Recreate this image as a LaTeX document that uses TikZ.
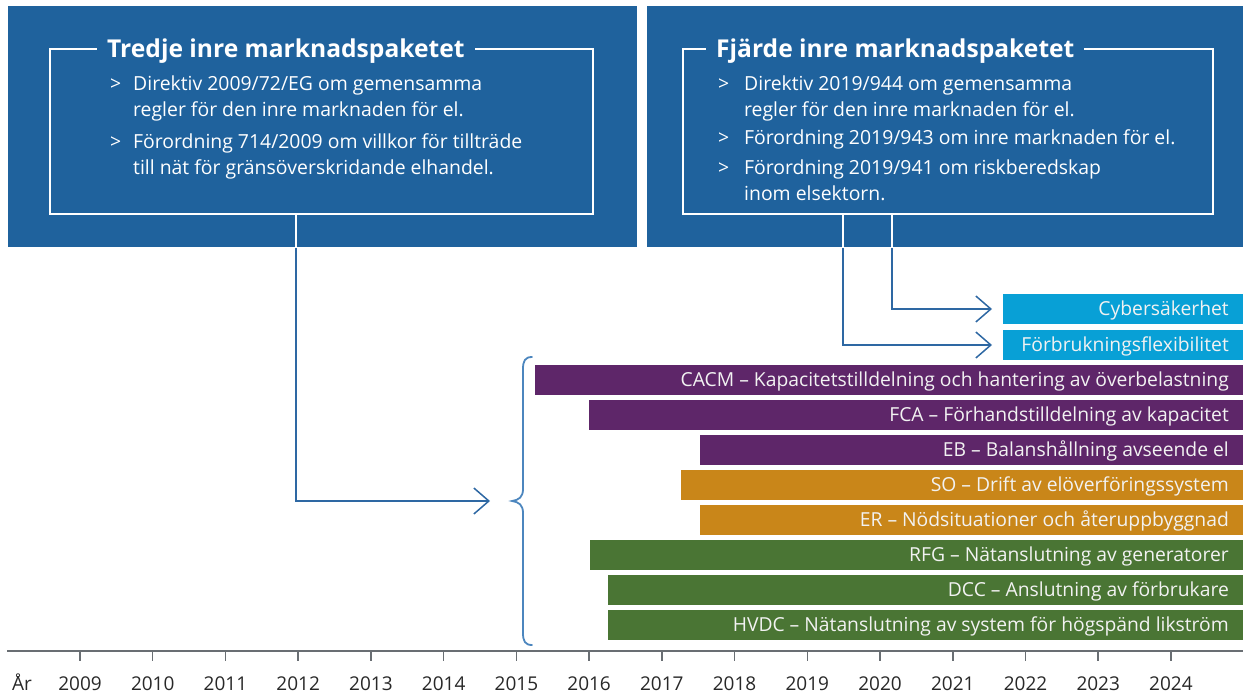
\documentclass[tikz,border=0pt]{standalone}
\usepackage{fontspec}
\setmainfont{Open Sans}
\usetikzlibrary{arrows.meta}

\definecolor{panelblue}{RGB}{31,98,157}
\definecolor{linkblue}{RGB}{46,104,163}
\definecolor{braceblue}{RGB}{76,134,190}
\definecolor{cyanbar}{RGB}{8,160,214}
\definecolor{purplebar}{RGB}{94,38,105}
\definecolor{orangebar}{RGB}{201,134,25}
\definecolor{greenbar}{RGB}{74,117,52}
\definecolor{axisgrey}{RGB}{105,110,115}
\definecolor{bartextcol}{RGB}{242,242,242}
\definecolor{labelgrey}{RGB}{40,40,40}

\tikzset{
  panel/.style={fill=panelblue, inner sep=0pt, outer sep=0pt, anchor=north west},
  framebox/.style={draw=white, line width=1.4pt, inner sep=0pt, outer sep=0pt, anchor=north west},
  titletext/.style={fill=panelblue, text=white, inner xsep=10pt, inner ysep=5pt, anchor=base west,
    font=\bfseries\fontsize{24.6}{28}\selectfont},
  bodyline/.style={text=white, inner sep=0pt, anchor=base west, font=\fontsize{19.4}{26}\selectfont},
  bar/.style={inner sep=0pt, outer sep=0pt, anchor=north west, minimum height=30pt},
  bartext/.style={text=bartextcol, inner sep=0pt, anchor=base east, font=\fontsize{19.3}{24}\selectfont},
  link/.style={draw=linkblue, line width=1.5pt,
    -{Straight Barb[length=15pt,width=26pt,line width=1.5pt]}},
  linkinner/.style={draw=white, line width=1.5pt},
  bracket/.style={draw=braceblue, line width=1.8pt, line cap=round},
  axisline/.style={draw=axisgrey, line width=1.5pt},
  ticklabel/.style={text=labelgrey, inner sep=0pt, anchor=base, font=\fontsize{19}{24}\selectfont},
}

\begin{document}
\begin{tikzpicture}[x=1pt, y=-1pt]
\useasboundingbox (0,0) rectangle (1243,693);

% blue header panels
\node[panel, minimum width=629pt, minimum height=241pt] (panelL) at (8,6) {};
\node[panel, minimum width=596pt, minimum height=241pt] (panelR) at (647,6) {};

% framed boxes inside the panels
\node[framebox, minimum width=543pt, minimum height=165pt] (frameL) at (50,49) {};
\node[framebox, minimum width=530pt, minimum height=165pt] (frameR) at (683,49) {};

% titles sit on the top frame line
\node[titletext] (titleL) at (97,58) {Tredje inre marknadspaketet};
\node[titletext] (titleR) at (706,58) {Fjärde inre marknadspaketet};

% third package items
\node[bodyline] (gL1) at (110,91) {>};
\node[bodyline] (tL1a) at (133,91) {Direktiv 2009/72/EG om gemensamma};
\node[bodyline] (tL1b) at (133,117) {regler för den inre marknaden för el.};
\node[bodyline] (gL2) at (110,148) {>};
\node[bodyline] (tL2a) at (133,148) {Förordning 714/2009 om villkor för tillträde};
\node[bodyline] (tL2b) at (133,174) {till nät för gränsöverskridande elhandel.};

% fourth package items
\node[bodyline] (gR1) at (718,91) {>};
\node[bodyline] (tR1a) at (744,91) {Direktiv 2019/944 om gemensamma};
\node[bodyline] (tR1b) at (744,117) {regler för den inre marknaden för el.};
\node[bodyline] (gR2) at (718,144) {>};
\node[bodyline] (tR2a) at (744,144) {Förordning 2019/943 om inre marknaden för el.};
\node[bodyline] (gR3) at (718,174) {>};
\node[bodyline] (tR3a) at (744,174) {Förordning 2019/941 om riskberedskap};
\node[bodyline] (tR3b) at (744,200) {inom elsektorn.};

% network codes and guidelines
\node[bar, fill=cyanbar,   minimum width=240pt] (cyber) at (1003,294) {};
\node[bar, fill=cyanbar,   minimum width=240pt] (flex)  at (1003,330) {};
\node[bar, fill=purplebar, minimum width=708pt] (cacm)  at (535,365) {};
\node[bar, fill=purplebar, minimum width=654pt] (fca)   at (589,400) {};
\node[bar, fill=purplebar, minimum width=543pt] (eb)    at (700,435) {};
\node[bar, fill=orangebar, minimum width=562pt] (so)    at (681,470) {};
\node[bar, fill=orangebar, minimum width=543pt] (er)    at (700,505) {};
\node[bar, fill=greenbar,  minimum width=653pt] (rfg)   at (590,540) {};
\node[bar, fill=greenbar,  minimum width=635pt] (dcc)   at (608,575) {};
\node[bar, fill=greenbar,  minimum width=635pt] (hvdc)  at (608,610) {};

\foreach \b/\t in {cyber/Cybersäkerhet, flex/Förbrukningsflexibilitet,
  cacm/CACM – Kapacitetstilldelning och hantering av överbelastning,
  fca/FCA – Förhandstilldelning av kapacitet,
  eb/EB – Balanshållning avseende el,
  so/SO – Drift av elöverföringssystem,
  er/ER – Nödsituationer och återuppbyggnad,
  rfg/RFG – Nätanslutning av generatorer,
  dcc/DCC – Anslutning av förbrukare,
  hvdc/HVDC – Nätanslutning av system för högspänd likström}
  \node[bartext] (\b-label) at ([xshift=-14pt, yshift=-6.5pt]\b.east) {\t};

% arrow ends
\coordinate (inL) at (490,501);

% connectors
\draw[link] ([xshift=-25.5pt]frameL.south) |- (inL);
\draw[link] ([xshift=-56pt]frameR.south) |- ([xshift=-11pt]cyber.west);
\draw[link] ([xshift=-105pt]frameR.south) |- ([xshift=-11pt]flex.west);
\begin{scope}
  \clip (panelL.north west) rectangle (panelL.south east);
  \draw[linkinner] ([xshift=-25.5pt]frameL.south) |- (inL);
\end{scope}
\begin{scope}
  \clip (panelR.north west) rectangle (panelR.south east);
  \draw[linkinner] ([xshift=-56pt]frameR.south) |- ([xshift=-11pt]cyber.west);
  \draw[linkinner] ([xshift=-105pt]frameR.south) |- ([xshift=-11pt]flex.west);
\end{scope}

% curly bracket grouping the codes
\draw[bracket] (532,357) .. controls (525,357) and (523,361) .. (523,369)
  -- (523,489) .. controls (523,497) and (519,500) .. (512,501)
  .. controls (519,502) and (523,505) .. (523,513)
  -- (523,633) .. controls (523,641) and (525,645) .. (532,645);

% time axis
\coordinate (axisL) at (7,651);
\coordinate (axisR) at (1243,651);
\draw[axisline] (axisL) -- (axisR);
\node[ticklabel] (yearlabel) at (22,690) {År};
\foreach \yr [count=\i from 0] in {2009,...,2024} {
  \coordinate (tick\yr) at ({80+72.73*\i},651);
  \draw[axisline] (tick\yr) -- ++(0,10);
  \node[ticklabel] (lab\yr) at ({80+72.73*\i},690) {\yr};
}
\end{tikzpicture}
\end{document}
